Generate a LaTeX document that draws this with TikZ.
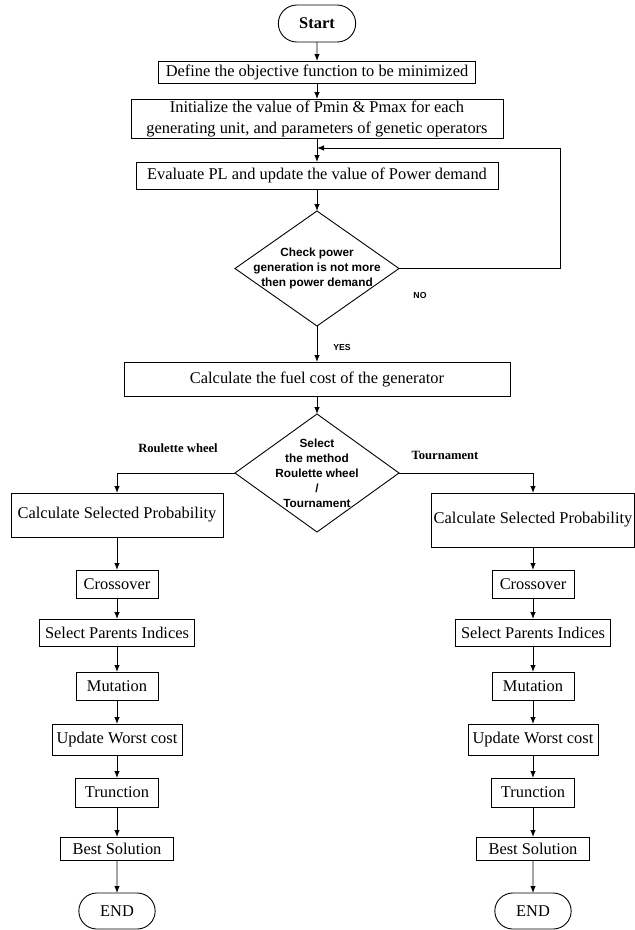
\documentclass[tikz,border=0pt]{standalone}
\usepackage{fontspec}
\setmainfont{Liberation Serif}
\setsansfont{Liberation Sans}
\usetikzlibrary{shapes.geometric, shapes.misc, arrows.meta, positioning}

\begin{document}
\begin{tikzpicture}[node distance=20pt, auto,
    block/.style={rectangle, draw, line width=0.9pt, outer sep=0pt, inner xsep=2pt, inner ysep=1pt, align=center, font=\fontsize{16.4}{21}\selectfont},
    term/.style={rounded rectangle, draw, line width=0.9pt, outer sep=0pt, minimum width=84pt, minimum height=37pt, font=\fontsize{16.4}{20}\selectfont},
    decision/.style={diamond, draw, line width=0.9pt, outer sep=0pt, minimum width=164pt, inner sep=0pt},
    dtext/.style={align=center, font=\sffamily\bfseries\fontsize{11.8}{15}\selectfont},
    branch/.style={font=\bfseries\fontsize{12.6}{15}\selectfont},
    tag/.style={font=\sffamily\bfseries\fontsize{8.7}{10}\selectfont},
    arrow/.style={line width=0.9pt,->,>={Latex[length=7pt,width=5.5pt]}}]

    \useasboundingbox (0,0) rectangle (635pt,-930pt);

    % Nodes
    \node [term] (start) at (317pt,-23.5pt) {\textbf{Start}};
    \node [block, below=19pt of start, minimum width=317pt, minimum height=22pt] (define) {Define the objective function to be minimized};
    \node [block, below=16pt of define, minimum width=372pt, minimum height=39pt] (init) {Initialize the value of Pmin \& Pmax for each\\generating unit, and parameters of genetic operators};
    \node [block, below=24pt of init, minimum width=362pt, minimum height=27pt] (eval) {Evaluate PL and update the value of Power demand};
    \node [decision, below=22pt of eval, minimum height=115pt,
        label={[dtext]center:{Check power\\generation is not more\\then power demand}}] (check) {};
    \node [block, below=36pt of check, minimum width=386pt, minimum height=34pt] (fuel) {Calculate the fuel cost of the generator};
    \node [decision, below=18pt of fuel, minimum height=118pt,
        label={[dtext]center:{Select\\the method\\Roulette wheel\\/\\Tournament}}] (select) {};

    \node [tag] (yes) at (342pt,-347pt) {YES};
    \node [tag] (no) at (420pt,-295pt) {NO};
    \node [branch] (roul) at (178pt,-448pt) {Roulette wheel};
    \node [branch] (tour) at (445pt,-455pt) {Tournament};

    \coordinate (merge) at (317pt,-148pt);
    \coordinate (back) at (560pt,-148pt);

    % Roulette wheel branch
    \node [block, minimum width=212pt, minimum height=44pt] (lcsp) at (117pt,-515pt) {Calculate Selected Probability};
    \node [block, below=33pt of lcsp, minimum width=82pt, minimum height=28pt] (lcross) {Crossover};
    \node [block, below=21pt of lcross, minimum width=155pt, minimum height=27pt] (lparents) {Select Parents Indices};
    \node [block, below=26pt of lparents, minimum width=82pt, minimum height=28pt] (lmut) {Mutation};
    \node [block, below=24pt of lmut, minimum width=130pt, minimum height=31pt] (lworst) {Update Worst cost};
    \node [block, below=23pt of lworst, minimum width=83pt, minimum height=29pt] (ltrunc) {Trunction};
    \node [block, below=30pt of ltrunc, minimum width=113pt, minimum height=23pt] (lbest) {Best Solution};
    \node [term, below=33pt of lbest, minimum width=83pt, minimum height=36pt] (lend) {END};

    % Tournament branch
    \node [block, minimum width=203pt, minimum height=54pt] (rcsp) at (533pt,-520pt) {Calculate Selected Probability};
    \node [block, below=23pt of rcsp, minimum width=82pt, minimum height=28pt] (rcross) {Crossover};
    \node [block, below=21pt of rcross, minimum width=155pt, minimum height=27pt] (rparents) {Select Parents Indices};
    \node [block, below=26pt of rparents, minimum width=82pt, minimum height=28pt] (rmut) {Mutation};
    \node [block, below=24pt of rmut, minimum width=130pt, minimum height=31pt] (rworst) {Update Worst cost};
    \node [block, below=23pt of rworst, minimum width=83pt, minimum height=29pt] (rtrunc) {Trunction};
    \node [block, below=30pt of rtrunc, minimum width=113pt, minimum height=23pt] (rbest) {Best Solution};
    \node [term, below=33pt of rbest, minimum width=83pt, minimum height=36pt] (rend) {END};

    % Arrows
    \draw [arrow] (start) -- (define);
    \draw [arrow] (define) -- (init);
    \draw [arrow] (init) -- (eval);
    \draw [arrow] (eval) -- (check);
    \draw [arrow] (check) -- (fuel);
    \draw [arrow] (check.east) -| (back) -- (merge);
    \draw [arrow] (fuel) -- (select);
    \draw [arrow] (select.west) -| (lcsp.north);
    \draw [arrow] (select.east) -| (rcsp.north);

    \draw [arrow] (lcsp) -- (lcross);
    \draw [arrow] (lcross) -- (lparents);
    \draw [arrow] (lparents) -- (lmut);
    \draw [arrow] (lmut) -- (lworst);
    \draw [arrow] (lworst) -- (ltrunc);
    \draw [arrow] (ltrunc) -- (lbest);
    \draw [arrow] (lbest) -- (lend);

    \draw [arrow] (rcsp) -- (rcross);
    \draw [arrow] (rcross) -- (rparents);
    \draw [arrow] (rparents) -- (rmut);
    \draw [arrow] (rmut) -- (rworst);
    \draw [arrow] (rworst) -- (rtrunc);
    \draw [arrow] (rtrunc) -- (rbest);
    \draw [arrow] (rbest) -- (rend);

\end{tikzpicture}
\end{document}
